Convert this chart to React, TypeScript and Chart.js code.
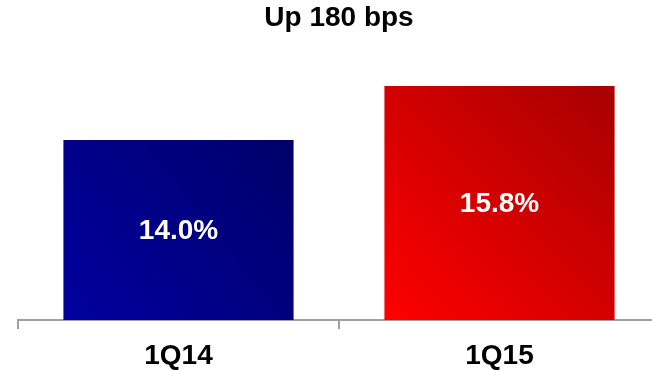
import React, { useEffect, useRef } from "react";
import { Chart, registerables } from "chart.js";

Chart.register(...registerables);

// Chart content
const titleText = "Up 180 bps";
const categories = ["1Q14", "1Q15"];
const marginValues = [14.0, 15.8];

// Styling
const FONT = "Arial, 'Liberation Sans', Helvetica, sans-serif";
const BAR_PCT = 0.717;
const barGradients = [
  ["#00009f", "#00006a"],
  ["#ff0000", "#a60000"],
];
const axisGray = "#a0a0a0";

const formatPct = (v: number) => v.toFixed(1) + "%";

// Diagonal gradient per bar, from bottom-left (bright) to top-right (dark)
function barFill(ctx: any) {
  const i = ctx.dataIndex ?? 0;
  const colors = barGradients[i % barGradients.length];
  if (ctx.type !== "data") return colors[0];
  const chart = ctx.chart;
  const xs = chart.scales?.x;
  const ys = chart.scales?.y;
  if (!xs || !ys || !xs.width) return colors[0];
  const cx = xs.getPixelForValue(i);
  const half = ((xs.width / categories.length) * BAR_PCT) / 2;
  const top = ys.getPixelForValue(marginValues[i]);
  const bottom = ys.getPixelForValue(ys.min);
  const g = chart.ctx.createLinearGradient(cx - half, bottom, cx + half, top);
  g.addColorStop(0, colors[0]);
  g.addColorStop(1, colors[1]);
  return g;
}

// White value labels centred inside the visible part of each bar
const valueLabelPlugin = {
  id: "valueLabels",
  afterDatasetsDraw(chart: any) {
    const { ctx, chartArea } = chart;
    const meta = chart.getDatasetMeta(0);
    ctx.save();
    ctx.fillStyle = "#ffffff";
    ctx.font = `bold 28px ${FONT}`;
    ctx.textAlign = "center";
    ctx.textBaseline = "middle";
    meta.data.forEach((el: any, i: number) => {
      const { x, y } = el.getProps(["x", "y"], true);
      const bottom = chartArea.bottom;
      ctx.fillText(formatPct(marginValues[i]), x, (y + bottom) / 2 + 1.5);
    });
    ctx.restore();
  },
};

export default function App() {
  const canvasRef = useRef<HTMLCanvasElement | null>(null);

  useEffect(() => {
    const canvas = canvasRef.current;
    if (!canvas) return;
    const chart = new Chart(canvas, {
      type: "bar",
      data: {
        labels: categories,
        datasets: [
          {
            data: marginValues,
            backgroundColor: barFill,
            borderWidth: 0,
            categoryPercentage: 1,
            barPercentage: BAR_PCT,
          },
        ],
      },
      options: {
        responsive: false,
        animation: false,
        devicePixelRatio: 1,
        layout: { padding: { left: 18, right: 0, top: 0, bottom: 0 } },
        plugins: {
          legend: { display: false },
          tooltip: { enabled: false },
          title: {
            display: true,
            text: titleText,
            color: "#000000",
            font: { family: FONT, size: 28, weight: "bold" },
            padding: { top: 1, bottom: 15.4 },
          },
        },
        scales: {
          x: {
            grid: {
              display: true,
              offset: true,
              drawOnChartArea: false,
              drawTicks: true,
              tickLength: 9,
              color: axisGray,
              lineWidth: 2,
            },
            border: { display: true, color: axisGray, width: 2 },
            ticks: {
              color: "#000000",
              padding: 10,
              font: { family: FONT, size: 28, weight: "bold" },
            },
            afterFit: (scale: any) => {
              scale.height = 50;
            },
          },
          y: {
            display: false,
            min: 8,
            max: 17,
          },
        },
      },
      plugins: [valueLabelPlugin],
    });
    return () => chart.destroy();
  }, []);

  return (
    <div
      style={{
        position: "fixed",
        left: 0,
        top: 0,
        width: 652,
        height: 370,
        overflow: "hidden",
        background: "#ffffff",
      }}
    >
      <canvas
        ref={canvasRef}
        width={660}
        height={370}
        style={{ display: "block", width: 660, height: 370 }}
      />
    </div>
  );
}
